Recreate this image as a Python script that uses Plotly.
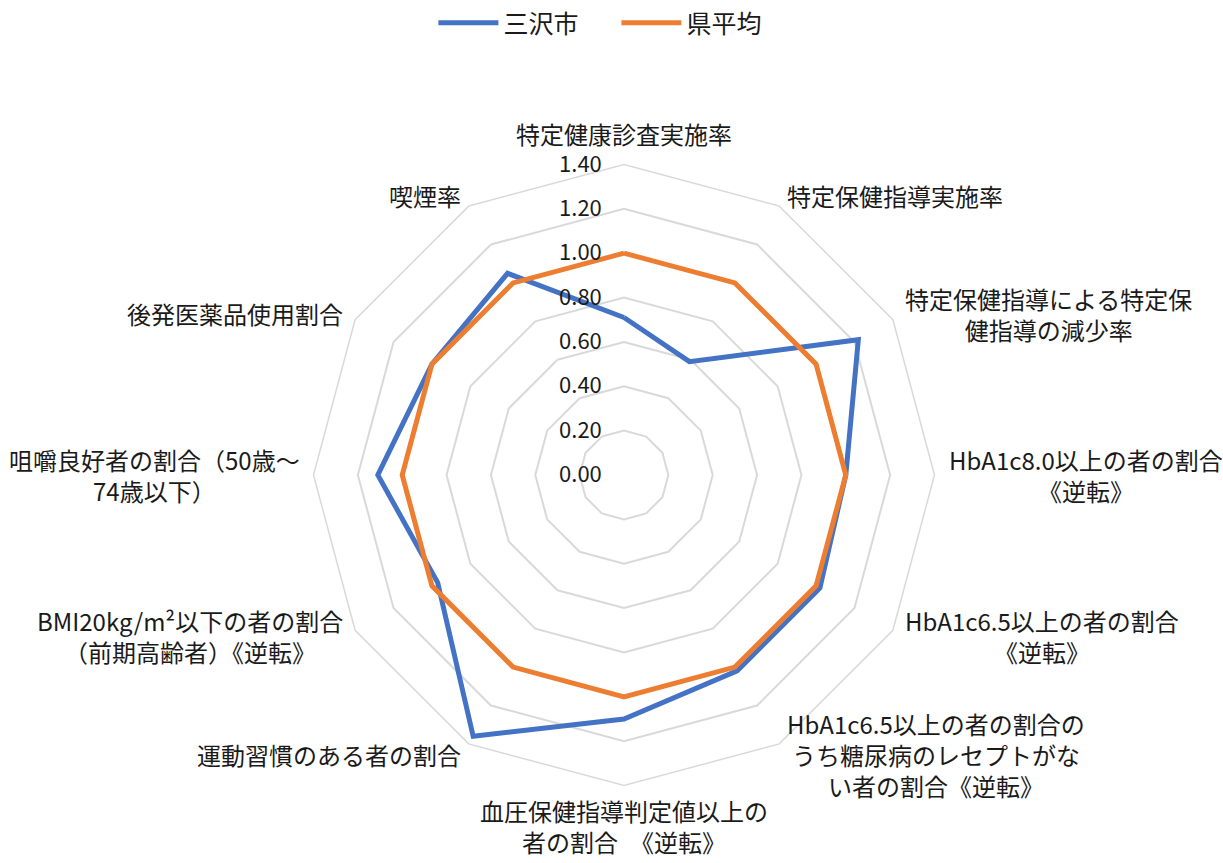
import math
import plotly.graph_objects as go

# Indicator names, clockwise from the top
categories = [
    "特定健康診査実施率",
    "特定保健指導実施率",
    "特定保健指導による特定保<br>健指導の減少率",
    "HbA1c8.0以上の者の割合<br>《逆転》",
    "HbA1c6.5以上の者の割合<br>《逆転》",
    "HbA1c6.5以上の者の割合の<br>うち糖尿病のレセプトがな<br>い者の割合《逆転》",
    "血圧保健指導判定値以上の<br>者の割合　《逆転》",
    "運動習慣のある者の割合",
    "BMI20kg/m²以下の者の割合<br>（前期高齢者）《逆転》",
    "咀嚼良好者の割合（50歳～<br>74歳以下）",
    "後発医薬品使用割合",
    "喫煙率",
]

misawa = [0.71, 0.59, 1.22, 1.00, 1.02, 1.02, 1.10, 1.36, 0.97, 1.11, 1.00, 1.05]
pref_avg = [1.00] * len(categories)

radial_ticks = [0.0, 0.2, 0.4, 0.6, 0.8, 1.0, 1.2, 1.4]
radial_labels = [f"{v:.2f}" for v in radial_ticks]

FONT = "Noto Sans CJK JP"
GRID = "#D9D9D9"
TEXT = "#1a1a1a"


def closed(values):
    return list(values) + [values[0]]


fig = go.Figure()
fig.add_trace(go.Scatterpolar(
    r=closed(misawa), theta=closed(categories), name="三沢市",
    mode="lines", line=dict(color="#4472C4", width=5),
))
fig.add_trace(go.Scatterpolar(
    r=closed(pref_avg), theta=closed(categories), name="県平均",
    mode="lines", line=dict(color="#ED7D31", width=5),
))

# Polar area geometry (pixels)
W, H = 1223, 863
cx, cy, R = 624, 475, 310.5
LABEL_GAP = 12
BOTTOM_GAP = 5

# Category labels sit just outside each spoke's outer vertex,
# with wrapped lines centred on each other.
annotations = []
n = len(categories)
for i, name in enumerate(categories):
    a = math.radians(360 * i / n)
    s, c = math.sin(a), math.cos(a)
    gap = BOTTOM_GAP if (abs(s) < 1e-6 and c < 0) else LABEL_GAP
    px = cx + (R + gap) * s
    py = cy - (R + gap) * c
    if abs(s) < 1e-6:
        xanchor = "center"
        yanchor = "bottom" if c > 0 else "top"
    else:
        xanchor = "left" if s > 0 else "right"
        yanchor = "middle"
    annotations.append(dict(
        text=name, x=px / W, y=1 - py / H, xref="paper", yref="paper",
        xanchor=xanchor, yanchor=yanchor, align="center", showarrow=False,
        font=dict(family=FONT, size=24, color=TEXT),
    ))

fig.update_layout(
    width=W, height=H,
    margin=dict(l=0, r=0, t=0, b=0),
    paper_bgcolor="white",
    font=dict(family=FONT, size=24, color=TEXT),
    showlegend=True,
    legend=dict(orientation="h", x=0.504, xanchor="center", y=1.0, yanchor="top",
                font=dict(size=25), itemwidth=60, entrywidth=108),
    annotations=annotations,
    polar=dict(
        domain=dict(x=[(cx - R) / W, (cx + R) / W],
                    y=[1 - (cy + R) / H, 1 - (cy - R) / H]),
        gridshape="linear",
        bgcolor="white",
        radialaxis=dict(
            range=[0, 1.4], tickvals=radial_ticks, ticktext=radial_labels,
            angle=90, tickangle=90, side="counterclockwise",
            showline=False, gridcolor=GRID, gridwidth=1.5,
            ticks="outside", ticklen=14, tickcolor="rgba(0,0,0,0)",
            tickfont=dict(size=22, color=TEXT),
        ),
        angularaxis=dict(
            rotation=90, direction="clockwise",
            showgrid=False, showline=True, linecolor=GRID, linewidth=1.5,
            ticks="", showticklabels=False,
        ),
    ),
)

fig.write_html("out.html")
